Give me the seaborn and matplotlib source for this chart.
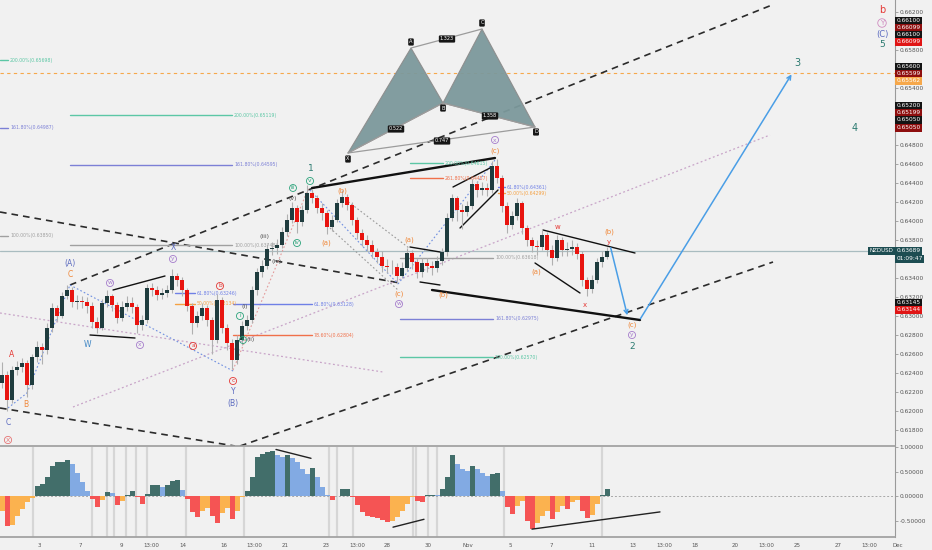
import numpy as np
import pandas as pd
import matplotlib
matplotlib.use("Agg")
import matplotlib.pyplot as plt
import matplotlib.transforms as mtransforms
import seaborn as sns

# ---------------- data ----------------
first_open = 0.62300
closes = [
    0.62384, 0.62121, 0.62436, 0.62468, 0.62510, 0.62279, 0.62573, 0.62679, 0.62647, 0.62879,
    0.63089, 0.63005, 0.63215, 0.63279, 0.63152, 0.63163, 0.63152, 0.63111, 0.62943, 0.62879,
    0.63142, 0.63215, 0.63121, 0.62984, 0.63100, 0.63142, 0.63100, 0.62910, 0.62963, 0.63300,
    0.63279, 0.63226, 0.63247, 0.63279, 0.63426, 0.63384, 0.63279, 0.63111, 0.62931, 0.63005,
    0.63089, 0.62963, 0.62752, 0.63173, 0.62879, 0.62721, 0.62542, 0.62752, 0.62900, 0.62963,
    0.63279, 0.63468, 0.63531, 0.63710, 0.63721, 0.63752, 0.63889, 0.64015, 0.64142, 0.63994,
    0.64121, 0.64300, 0.64247, 0.64142, 0.64089, 0.63942, 0.64015, 0.64194, 0.64257, 0.64173,
    0.64015, 0.63879, 0.63805, 0.63752, 0.63678, 0.63626, 0.63531, 0.63521, 0.63521, 0.63426,
    0.63510, 0.63668, 0.63573, 0.63468, 0.63563, 0.63531, 0.63510, 0.63584, 0.63678, 0.64036,
    0.64247, 0.64121, 0.64100, 0.64163, 0.64394, 0.64331, 0.64352, 0.64331, 0.64584, 0.64457,
    0.64163, 0.63963, 0.64057, 0.64194, 0.63931, 0.63805, 0.63742, 0.63731, 0.63857, 0.63700,
    0.63615, 0.63805, 0.63700, 0.63710, 0.63731, 0.63657, 0.63384, 0.63289, 0.63384, 0.63573,
    0.63626, 0.63689]
highs = [
    0.62520, 0.62430, 0.62480, 0.62530, 0.62560, 0.62540, 0.62610, 0.62740, 0.62720, 0.62930,
    0.63140, 0.63120, 0.63260, 0.63330, 0.63310, 0.63230, 0.63220, 0.63200, 0.63150, 0.62990,
    0.63180, 0.63280, 0.63240, 0.63150, 0.63160, 0.63220, 0.63200, 0.63130, 0.63020, 0.63340,
    0.63350, 0.63320, 0.63300, 0.63330, 0.63500, 0.63460, 0.63420, 0.63300, 0.63140, 0.63060,
    0.63140, 0.63120, 0.62990, 0.63240, 0.63200, 0.62920, 0.62760, 0.62800, 0.62950, 0.63020,
    0.63320, 0.63510, 0.63590, 0.63760, 0.63780, 0.63820, 0.63940, 0.64080, 0.64200, 0.64170,
    0.64170, 0.64380, 0.64340, 0.64280, 0.64190, 0.64120, 0.64070, 0.64240, 0.64330, 0.64290,
    0.64200, 0.64050, 0.63920, 0.63860, 0.63800, 0.63720, 0.63690, 0.63600, 0.63590, 0.63560,
    0.63570, 0.63720, 0.63700, 0.63600, 0.63620, 0.63620, 0.63580, 0.63640, 0.63720, 0.64090,
    0.64290, 0.64270, 0.64180, 0.64220, 0.64450, 0.64430, 0.64420, 0.64410, 0.64640, 0.64660,
    0.64490, 0.64200, 0.64110, 0.64250, 0.64220, 0.63960, 0.63840, 0.63810, 0.63920, 0.63890,
    0.63750, 0.63860, 0.63840, 0.63780, 0.63800, 0.63770, 0.63690, 0.63420, 0.63440, 0.63620,
    0.63690, 0.63730]
lows = [
    0.62250, 0.62010, 0.62090, 0.62380, 0.62420, 0.62150, 0.62240, 0.62520, 0.62500, 0.62600,
    0.62840, 0.62950, 0.62980, 0.63180, 0.63100, 0.63080, 0.63090, 0.63040, 0.62880, 0.62830,
    0.62860, 0.63100, 0.63060, 0.62930, 0.62950, 0.63060, 0.63040, 0.62830, 0.62860, 0.62930,
    0.63220, 0.63170, 0.63180, 0.63200, 0.63250, 0.63320, 0.63220, 0.63060, 0.62820, 0.62890,
    0.62960, 0.62900, 0.62600, 0.62720, 0.62830, 0.62650, 0.62450, 0.62500, 0.62700, 0.62860,
    0.62930, 0.63230, 0.63420, 0.63500, 0.63650, 0.63660, 0.63720, 0.63850, 0.63980, 0.63880,
    0.63950, 0.64090, 0.64190, 0.64090, 0.64020, 0.63870, 0.63900, 0.63990, 0.64150, 0.64120,
    0.63960, 0.63820, 0.63740, 0.63690, 0.63620, 0.63560, 0.63470, 0.63460, 0.63450, 0.63350,
    0.63400, 0.63480, 0.63500, 0.63400, 0.63420, 0.63470, 0.63440, 0.63470, 0.63540, 0.63640,
    0.64000, 0.64000, 0.63920, 0.64060, 0.64130, 0.64260, 0.64280, 0.64270, 0.64300, 0.64400,
    0.64100, 0.63880, 0.63920, 0.64020, 0.63870, 0.63740, 0.63680, 0.63650, 0.63700, 0.63640,
    0.63540, 0.63580, 0.63640, 0.63640, 0.63650, 0.63600, 0.63320, 0.63220, 0.63250, 0.63350,
    0.63520, 0.63600]
osc = [
    -0.30, -0.60, -0.58, -0.40, -0.27, -0.12, -0.03, 0.20, 0.25, 0.38,
    0.62, 0.69, 0.70, 0.73, 0.65, 0.48, 0.28, 0.10, -0.05, -0.22,
    -0.08, 0.08, 0.06, -0.18, -0.10, 0.03, 0.10, -0.02, -0.15, 0.05,
    0.22, 0.22, 0.19, 0.22, 0.30, 0.32, 0.12, -0.05, -0.33, -0.42,
    -0.30, -0.24, -0.40, -0.54, -0.35, -0.25, -0.47, -0.30, -0.02, 0.10,
    0.40, 0.80, 0.86, 0.89, 0.91, 0.84, 0.80, 0.83, 0.78, 0.70,
    0.55, 0.45, 0.57, 0.38, 0.18, 0.02, -0.08, 0.01, 0.14, 0.15,
    -0.02, -0.18, -0.33, -0.40, -0.42, -0.45, -0.48, -0.52, -0.50, -0.42,
    -0.30, -0.15, -0.01, -0.10, -0.11, 0.02, 0.03, 0.02, 0.15, 0.40,
    0.83, 0.65, 0.56, 0.52, 0.62, 0.55, 0.48, 0.42, 0.45, 0.48,
    0.10, -0.22, -0.37, -0.20, -0.10, -0.50, -0.67, -0.55, -0.40, -0.30,
    -0.46, -0.32, -0.20, -0.27, -0.12, -0.08, -0.30, -0.45, -0.38, -0.15,
    0.02, 0.14]

date_labels = ['3', '7', '9', '13:00', '14', '16', '13:00', '21', '23', '13:00', '28', '30',
               'Nov', '5', '7', '11', '13', '13:00', '18', '20', '13:00', '25', '27', '13:00', 'Dec']
date_px = [39, 80, 121, 151, 183, 224, 254, 285, 326, 357, 387, 428,
           468, 510, 551, 592, 633, 664, 695, 735, 766, 797, 838, 869, 898]
price_ticks = [0.618 + 0.002 * k for k in range(23)]
hidden_ticks = ['0.66000', '0.65600', '0.65200', '0.65000', '0.63600']
osc_ticks = [1.0, 0.5, 0.0, -0.5]
last_price = 0.63689
signal_px = [33, 92, 107, 114, 126, 136, 147, 186, 244, 329, 337, 353, 413, 416, 428, 437, 504, 602]

# ---------------- helpers (pixel -> data for annotations) ----------------
PITCH = 5.0
def X(px):
    return (px - 2) / PITCH
def Y(py):
    return last_price + (251 - py) / 9500.0

BG = '#f1f1f1'
sns.set_theme(style='white', rc={'axes.facecolor': BG, 'figure.facecolor': BG})
plt.rcParams['font.family'] = ['DejaVu Sans']

fig = plt.figure(figsize=(9.32, 5.5), dpi=100)
ax = fig.add_axes([0, 1 - 446 / 550, 895 / 932, 446 / 550])
ax2 = fig.add_axes([0, 1 - 537 / 550, 895 / 932, 90 / 550])
for a in (ax, ax2):
    a.set_facecolor(BG)
    for s in a.spines.values():
        s.set_visible(False)
    a.spines['right'].set_visible(True)
    a.spines['right'].set_color('#9a9a9a')
    a.spines['right'].set_linewidth(0.8)
ax.spines['bottom'].set_visible(True)
ax.spines['bottom'].set_color('#a0a0a0')
ax2.spines['bottom'].set_visible(True)
ax2.spines['bottom'].set_color('#a0a0a0')

n = len(closes)
idx = np.arange(n)
opens = [first_open] + closes[:-1]
df = pd.DataFrame({'i': idx, 'o': opens, 'h': highs, 'l': lows, 'c': closes, 'osc': osc})

XL = (X(0), X(895))
ax.set_xlim(*XL)
ax.set_ylim(Y(446), Y(0))

# ---------------- main panel decorations ----------------
ax.axhline(last_price, color='#a9bcc0', lw=0.9, zorder=1)
ax.axhline(Y(73), color='#f6a84b', lw=0.8, ls=(0, (3, 3)), zorder=1)

def seg(p0, p1, **kw):
    ax.plot([X(p0[0]), X(p1[0])], [Y(p0[1]), Y(p1[1])], **kw)

dash_kw = dict(color='#2b2b2b', lw=1.2, ls=(0, (4, 3)), zorder=2)
seg((70, 285), (772, 5), **dash_kw)
seg((240, 446), (773, 262), **dash_kw)
seg((0, 212), (400, 283), **dash_kw)
seg((0, 408), (235, 446), **dash_kw)

dot_kw = dict(color='#c8a4c8', lw=0.9, ls=(0, (1.5, 2)), zorder=2)
seg((0, 313), (383, 372), **dot_kw)
seg((73, 407), (770, 135), **dot_kw)

bdot = dict(color='#6f8fe0', lw=0.8, ls=(0, (1.5, 2)), zorder=2)
seg((8, 408), (27, 393), **bdot)
seg((27, 393), (70, 285), **bdot)
seg((70, 285), (235, 372), **bdot)
seg((310, 190), (398, 284), **bdot)
seg((398, 284), (495, 160), **bdot)
gdot = dict(color='#9a9a9a', lw=0.8, ls=(0, (1.5, 2)), zorder=2)
seg((342, 197), (409, 248), **gdot)
seg((330, 228), (398, 290), **gdot)
seg((233, 370), (309, 187), color='#e39a9a', lw=0.8, ls=(0, (1.5, 2)), zorder=2)

thick = dict(color='#111111', lw=1.7, zorder=3)
seg((312, 188), (495, 158), **thick)
seg((432, 290), (640, 320), **thick)
thin = dict(color='#111111', lw=1.0, zorder=3)
seg((113, 290), (165, 276), **thin)
seg((90, 335), (135, 338), **thin)
seg((410, 247), (440, 252), **thin)
seg((420, 282), (440, 285), **thin)
seg((453, 187), (490, 168), **thin)
seg((460, 228), (498, 190), **thin)
seg((543, 230), (635, 253), **thin)
seg((535, 263), (580, 293), **thin)

# fib levels
fibs = [
    (0, 8, 0.65698, '200.00%(0.65698)', '#5cc7a5'),
    (0, 8, 0.64987, '161.80%(0.64987)', '#7c80d6'),
    (0, 8, 0.63850, '100.00%(0.63850)', '#a0a0a0'),
    (70, 232, 0.65119, '200.00%(0.65119)', '#5cc7a5'),
    (70, 232, 0.64595, '161.80%(0.64595)', '#7c80d6'),
    (70, 232, 0.63748, '100.00%(0.63748)', '#a0a0a0'),
    (175, 195, 0.63246, '61.80%(0.63246)', '#6f80e6'),
    (175, 195, 0.63134, '50.00%(0.63134)', '#f5a142'),
    (233, 312, 0.63128, '61.80%(0.63128)', '#6f80e6'),
    (233, 312, 0.62804, '78.60%(0.62804)', '#f0704a'),
    (400, 493, 0.63618, '100.00%(0.63618)', '#a0a0a0'),
    (400, 493, 0.62975, '161.80%(0.62975)', '#7c80d6'),
    (400, 493, 0.62570, '200.00%(0.62570)', '#5cc7a5'),
    (410, 443, 0.64615, '200.00%(0.64615)', '#5cc7a5'),
    (410, 443, 0.64457, '261.80%(0.64457)', '#f0704a'),
    (498, 505, 0.64361, '61.80%(0.64361)', '#6f80e6'),
    (498, 505, 0.64299, '50.00%(0.64299)', '#f5a142'),
]
for x0, x1, p, lab, col in fibs:
    ax.plot([X(x0), X(x1)], [p, p], color=col, lw=1.0, zorder=2)
    ax.text(X(x1 + 2), p, lab, color=col, fontsize=3.3, va='center', ha='left', zorder=4)

# harmonic pattern
pts = {'X': (348, 153), 'A': (411, 48), 'B': (443, 103), 'C': (482, 29), 'D': (535, 127)}
for tri in (('X', 'A', 'B'), ('B', 'C', 'D')):
    ax.fill([X(pts[k][0]) for k in tri], [Y(pts[k][1]) for k in tri],
            facecolor='#7c999c', edgecolor='#8c8c8c', lw=0.8, alpha=0.95, zorder=2)
for a_, b_ in (('A', 'C'), ('X', 'B'), ('B', 'D'), ('X', 'D')):
    seg(pts[a_], pts[b_], color='#9c9c9c', lw=0.9, zorder=2)
box = dict(boxstyle='round,pad=0.22', fc='#161616', ec='none')
for k, (dx, dy) in {'X': (0, 6), 'A': (0, -6), 'B': (0, 5), 'C': (0, -6), 'D': (1, 5)}.items():
    ax.text(X(pts[k][0] + dx), Y(pts[k][1] + dy), k, color='white', fontsize=3.6,
            ha='center', va='center', bbox=box, zorder=6)
for s, (px, py) in {'1.323': (447, 39), '0.522': (396, 129), '1.358': (490, 116), '0.747': (442, 141)}.items():
    ax.text(X(px), Y(py), s, color='white', fontsize=3.6, ha='center', va='center', bbox=box, zorder=6)

# ---------------- candles ----------------
bull, bear, wick = '#1f3c3e', '#e8140f', '#b0b0b0'
ax.vlines(df['i'], df['l'], df['h'], color=wick, lw=0.8, zorder=4)
body_lo = np.minimum(df['o'], df['c'])
body_h = np.maximum(np.abs(df['c'] - df['o']), 0.00004)
cols = [bull if c >= o else bear for o, c in zip(df['o'], df['c'])]
ax.bar(df['i'], body_h, bottom=body_lo, width=0.62, color=cols, lw=0, zorder=5)

# ---------------- wave labels ----------------
OR, RD, BL, PU, GR, DK, TL = '#f0883a', '#e53935', '#5c6bc0', '#a57ccc', '#2aa37a', '#555555', '#2b7a70'
labels = [
    ('C', 8, 423, BL, False, 5.5), ('X', 8, 440, '#e57373', True, 4.5),
    ('A', 12, 355, RD, False, 5.5), ('B', 26, 405, OR, False, 5.5),
    ('(A)', 70, 264, BL, False, 5.5), ('C', 70, 275, OR, False, 5.5),
    ('W', 88, 345, '#3f86c4', False, 5.5), ('w', 110, 283, PU, True, 4.2),
    ('x', 140, 345, PU, True, 4.2), ('X', 173, 248, BL, False, 5.5),
    ('y', 173, 259, PU, True, 4.2), ('a', 193, 346, RD, True, 4.2),
    ('b', 220, 286, RD, True, 4.2), ('c', 233, 381, RD, True, 4.2),
    ('Y', 233, 392, BL, False, 5.5), ('(B)', 233, 404, BL, False, 5.5),
    ('i', 240, 316, GR, True, 4.2), ('(i)', 245, 307, DK, False, 4.5),
    ('ii', 243, 340, GR, True, 4.0), ('(ii)', 251, 340, DK, False, 4.5),
    ('(iii)', 265, 237, DK, False, 4.5), ('(iv)', 277, 262, DK, False, 4.5),
    ('(v)', 293, 199, DK, False, 4.5), ('iii', 293, 188, GR, True, 3.8),
    ('iv', 297, 243, GR, True, 4.0), ('v', 310, 181, GR, True, 4.2),
    ('1', 311, 169, TL, False, 6.5),
    ('(a)', 326, 243, OR, False, 5.0), ('(b)', 342, 191, OR, False, 5.0),
    ('(a)', 409, 240, OR, False, 5.0), ('(c)', 399, 294, OR, False, 5.0),
    ('w', 399, 304, PU, True, 4.2), ('(b)', 443, 295, OR, False, 5.0),
    ('x', 495, 140, PU, True, 4.2), ('(c)', 495, 151, OR, False, 5.0),
    ('(a)', 536, 272, OR, False, 5.0), ('w', 558, 227, RD, False, 5.0),
    ('x', 585, 305, RD, False, 5.0), ('(b)', 609, 232, OR, False, 5.0),
    ('y', 609, 242, RD, False, 5.0), ('(c)', 632, 325, OR, False, 5.0),
    ('y', 632, 335, PU, True, 4.2), ('2', 632, 347, TL, False, 6.5),
    ('3', 797, 63, TL, False, 7), ('4', 855, 128, TL, False, 7),
    ('b', 882, 10, RD, False, 7), ('Y', 882, 23, '#d08cc0', True, 5),
    ('(C)', 882, 35, BL, False, 6), ('5', 882, 45, TL, False, 6.5),
]
for s, px, py, col, circ, fs in labels:
    kw = dict(color=col, fontsize=fs, ha='center', va='center', zorder=7)
    if circ:
        kw['bbox'] = dict(boxstyle='circle,pad=0.18', fc='none', ec=col, lw=0.6)
    ax.text(X(px), Y(py), s, **kw)

# projection arrows
arr = dict(arrowstyle='->', color='#4a9ee6', lw=1.1, mutation_scale=7)
ax.annotate('', xy=(X(628), Y(318)), xytext=(X(610), Y(245)), arrowprops=arr, zorder=6)
ax.annotate('', xy=(X(793), Y(72)), xytext=(X(639), Y(321)), arrowprops=arr, zorder=6)

# ---------------- right price axis ----------------
ax.yaxis.tick_right()
ax.set_yticks(price_ticks)
tick_txt = [f'{t:.5f}' for t in price_ticks]
ax.set_yticklabels(['' if s in hidden_ticks else s for s in tick_txt], fontsize=4.2, color='#555555')
ax.tick_params(axis='y', length=2, width=0.5, color='#888888', pad=1.5)
ax.set_xticks([])
ax.set_xlabel('')
ax.set_ylabel('')

trans = mtransforms.blended_transform_factory(ax.transAxes, ax.transData)
axis_boxes = [
    ('0.66100', 21, '#141414'), ('0.66099', 28, '#8e0e0e'), ('0.66100', 35, '#141414'),
    ('0.66099', 42, '#e01515'), ('0.65600', 67, '#141414'), ('0.65599', 74, '#8e0e0e'),
    ('0.65562', 81, '#f6a84b'), ('0.65200', 106, '#141414'), ('0.65199', 113, '#8e0e0e'),
    ('0.65050', 120, '#141414'), ('0.65050', 128, '#8e0e0e'),
    ('0.63689', 251, '#1d4d52'), ('01:09:47', 259, '#1d4d52'),
    ('0.63145', 303, '#141414'), ('0.63144', 310, '#e01515'),
]
for s, py, col in axis_boxes:
    ax.text(1.0015, Y(py), s, transform=trans, fontsize=4.2, color='white', ha='left', va='center',
            bbox=dict(boxstyle='square,pad=0.3', fc=col, ec='none'), clip_on=False, zorder=10)
ax.text(0.9985, last_price, 'NZDUSD', transform=trans, fontsize=4.0, color='white', ha='right',
        va='center', bbox=dict(boxstyle='square,pad=0.3', fc='#1d4d52', ec='none'), clip_on=False, zorder=10)

# ---------------- oscillator panel ----------------
rising = np.r_[True, np.diff(df['osc']) >= 0]
state = np.where(df['osc'] >= 0,
                 np.where(rising, 'pos_up', 'pos_dn'),
                 np.where(rising, 'neg_up', 'neg_dn'))
df['state'] = state
pal = {'pos_up': '#426e6a', 'pos_dn': '#82aae3', 'neg_dn': '#f55454', 'neg_up': '#fbb24f'}
for sp in signal_px:
    ax2.axvline(X(sp), color='#d6d6d6', lw=1.6, zorder=0)
ax2.axhline(0, color='#a8a8a8', lw=0.7, ls=(0, (2, 2)), zorder=0.5)
sns.barplot(data=df, x='i', y='osc', hue='state', palette=pal, native_scale=True, width=1.0,
            dodge=False, saturation=1, legend=False, errorbar=None, linewidth=0, ax=ax2, zorder=2)
ax2.set_xlim(*XL)
ax2.set_ylim(-0.83, 1.0)
ax2.set_xlabel('')
ax2.set_ylabel('')


def seg2(p0, p1):
    ax2.plot([X(p0[0]), X(p1[0])], [p0[1], p1[1]], color='#222222', lw=1.0, zorder=4)
seg2((276, 0.95), (311, 0.77))
seg2((393, -0.63), (424, -0.47))
seg2((532, -0.67), (660, -0.32))

ax2.yaxis.tick_right()
ax2.set_yticks(osc_ticks)
ax2.set_yticklabels([f'{t:.5f}' for t in osc_ticks], fontsize=4.2, color='#555555')
ax2.tick_params(axis='y', length=2, width=0.5, color='#888888', pad=1.5)
ax2.set_xticks([X(p) for p in date_px if X(p) <= XL[1]])
ax2.set_xticklabels([])
ax2.tick_params(axis='x', length=2, width=0.5, color='#888888')
trans2 = mtransforms.blended_transform_factory(ax2.transData, ax2.transAxes)
for lab, px in zip(date_labels, date_px):
    ax2.text(X(px), -0.09, lab, transform=trans2, fontsize=4.0, color='#555555',
             ha='center', va='center', clip_on=False)

fig.savefig('out.png', dpi=100, facecolor=BG)
